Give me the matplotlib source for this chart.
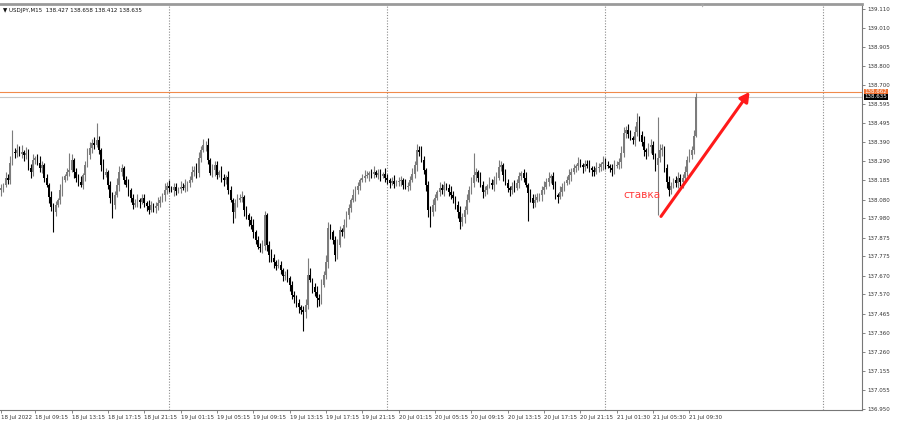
import numpy as np
import matplotlib
matplotlib.use("Agg")
import matplotlib.pyplot as plt

# USDJPY M15 closes, one per bar (18 Jul 05:30 -> 21 Jul 10:00)
closes = [
    138.144, 138.160, 138.198, 138.187, 138.279, 138.338, 138.333, 138.349, 138.327, 138.338,
    138.322, 138.333, 138.252, 138.230, 138.295, 138.306, 138.279, 138.252, 138.268, 138.198,
    138.160, 138.095, 138.041, 138.014, 138.052, 138.079, 138.133, 138.187, 138.209, 138.230,
    138.241, 138.295, 138.230, 138.198, 138.176, 138.160, 138.214, 138.268, 138.322, 138.360,
    138.387, 138.376, 138.403, 138.349, 138.268, 138.214, 138.230, 138.160, 138.090, 138.052,
    138.106, 138.160, 138.230, 138.252, 138.187, 138.160, 138.133, 138.090, 138.052, 138.063,
    138.079, 138.068, 138.090, 138.063, 138.047, 138.025, 138.052, 138.036, 138.047, 138.063,
    138.079, 138.106, 138.133, 138.155, 138.144, 138.133, 138.149, 138.128, 138.138, 138.149,
    138.144, 138.160, 138.171, 138.187, 138.230, 138.241, 138.225, 138.306, 138.349, 138.376,
    138.376, 138.295, 138.225, 138.241, 138.268, 138.214, 138.230, 138.198, 138.187, 138.203,
    138.133, 138.079, 138.014, 138.063, 138.079, 138.090, 138.095, 138.025, 137.998, 137.971,
    137.944, 137.906, 137.863, 137.825, 137.820, 137.831, 137.998, 137.836, 137.782, 137.766,
    137.744, 137.723, 137.728, 137.701, 137.669, 137.674, 137.658, 137.620, 137.566, 137.555,
    137.523, 137.501, 137.485, 137.474, 137.512, 137.674, 137.647, 137.609, 137.582, 137.550,
    137.539, 137.620, 137.674, 137.744, 137.928, 137.906, 137.863, 137.782, 137.836, 137.917,
    137.906, 137.944, 137.998, 138.036, 138.079, 138.106, 138.133, 138.155, 138.187, 138.198,
    138.209, 138.214, 138.225, 138.219, 138.230, 138.214, 138.225, 138.209, 138.219, 138.198,
    138.187, 138.171, 138.182, 138.165, 138.176, 138.182, 138.187, 138.160, 138.149, 138.155,
    138.187, 138.219, 138.268, 138.349, 138.338, 138.295, 138.241, 138.160, 138.025, 138.014,
    138.052, 138.090, 138.122, 138.144, 138.133, 138.160, 138.144, 138.122, 138.106, 138.090,
    138.052, 138.014, 137.960, 137.987, 138.025, 138.079, 138.133, 138.171, 138.214, 138.230,
    138.198, 138.160, 138.122, 138.133, 138.155, 138.171, 138.160, 138.187, 138.198, 138.257,
    138.268, 138.214, 138.171, 138.144, 138.133, 138.155, 138.144, 138.171, 138.209, 138.225,
    138.198, 138.160, 138.117, 138.090, 138.063, 138.079, 138.095, 138.106, 138.133, 138.149,
    138.176, 138.198, 138.209, 138.160, 138.106, 138.095, 138.122, 138.149, 138.171, 138.187,
    138.214, 138.230, 138.252, 138.263, 138.279, 138.268, 138.257, 138.273, 138.263, 138.252,
    138.241, 138.230, 138.252, 138.257, 138.273, 138.284, 138.268, 138.263, 138.252, 138.241,
    138.263, 138.268, 138.284, 138.333, 138.441, 138.457, 138.435, 138.414, 138.403, 138.446,
    138.500, 138.430, 138.392, 138.349, 138.338, 138.365, 138.376, 138.322, 138.268, 138.306,
    138.349, 138.360, 138.252, 138.176, 138.133, 138.155, 138.187, 138.171, 138.198, 138.176,
    138.198, 138.230, 138.295, 138.322, 138.349, 138.427, 138.635,
]
first_open = 138.133

# wick lengths in pips (0.01)
wick_up = [
    2, 1, 3, 2, 4, 12, 2, 3, 2, 4, 1, 3, 2, 2, 3, 1, 2, 4, 2, 1,
    2, 1, 3, 2, 2, 1, 3, 2, 1, 2, 9, 3, 1, 2, 2, 3, 1, 2, 4, 3,
    2, 3, 9, 2, 1, 3, 2, 1, 2, 3, 2, 4, 3, 2, 1, 2, 3, 1, 2, 2,
    3, 1, 2, 2, 1, 3, 2, 1, 2, 3, 2, 1, 4, 2, 3, 1, 2, 2, 1, 3,
    2, 3, 1, 2, 3, 2, 4, 3, 2, 3, 2, 4, 1, 3, 2, 2, 1, 3, 2, 1,
    3, 2, 1, 2, 3, 2, 3, 1, 2, 1, 2, 3, 1, 2, 2, 3, 2, 1, 2, 3,
    2, 1, 3, 2, 1, 2, 3, 1, 2, 2, 1, 2, 1, 2, 3, 9, 4, 1, 2, 3,
    2, 3, 2, 4, 3, 2, 1, 2, 3, 2, 1, 3, 2, 2, 1, 3, 2, 2, 1, 2,
    3, 2, 1, 2, 3, 1, 2, 2, 1, 3, 2, 1, 2, 3, 1, 2, 2, 1, 3, 2,
    2, 3, 2, 3, 2, 3, 2, 1, 2, 2, 3, 2, 1, 3, 2, 2, 1, 2, 3, 2,
    1, 2, 3, 2, 2, 3, 2, 3, 12, 2, 1, 3, 2, 2, 1, 3, 2, 2, 3, 4,
    2, 1, 3, 2, 1, 2, 3, 2, 2, 1, 2, 3, 1, 2, 2, 3, 2, 1, 2, 3,
    2, 3, 1, 2, 2, 1, 3, 2, 1, 2, 3, 2, 2, 1, 3, 2, 1, 2, 2, 3,
    1, 2, 3, 2, 1, 3, 2, 2, 1, 2, 3, 2, 2, 4, 3, 2, 3, 2, 1, 3,
    5, 3, 2, 3, 1, 2, 3, 2, 1, 22, 3, 2, 1, 2, 3, 2, 1, 2, 3, 2,
    2, 3, 2, 3, 2, 3, 2,
]
wick_dn = [
    3, 2, 1, 2, 2, 1, 3, 2, 1, 2, 3, 2, 1, 3, 2, 2, 1, 2, 3, 2,
    1, 3, 2, 11, 2, 1, 2, 3, 1, 2, 2, 1, 3, 2, 2, 1, 2, 3, 1, 2,
    3, 2, 1, 2, 3, 2, 1, 2, 3, 7, 2, 1, 3, 2, 2, 1, 3, 2, 2, 1,
    2, 3, 1, 2, 3, 2, 1, 2, 3, 2, 2, 1, 3, 2, 2, 1, 3, 2, 1, 2,
    1, 2, 3, 2, 1, 2, 3, 2, 2, 1, 3, 2, 1, 2, 3, 2, 1, 2, 3, 2,
    2, 1, 6, 3, 2, 1, 2, 3, 2, 3, 2, 3, 2, 1, 2, 3, 2, 3, 4, 2,
    3, 2, 1, 2, 3, 2, 2, 3, 2, 3, 2, 3, 2, 10, 3, 2, 1, 3, 2, 5,
    3, 2, 1, 2, 3, 4, 2, 3, 2, 1, 2, 3, 1, 2, 2, 1, 3, 2, 2, 1,
    2, 1, 3, 2, 2, 1, 2, 3, 1, 2, 2, 3, 1, 2, 1, 2, 3, 2, 1, 2,
    2, 1, 2, 3, 2, 1, 2, 3, 4, 8, 2, 3, 1, 2, 2, 3, 1, 2, 2, 3,
    2, 3, 4, 2, 3, 2, 1, 2, 2, 3, 2, 1, 3, 2, 2, 1, 2, 3, 2, 1,
    2, 3, 1, 2, 3, 2, 2, 1, 3, 2, 2, 1, 15, 2, 3, 2, 1, 2, 3, 2,
    1, 2, 3, 2, 2, 3, 1, 2, 2, 1, 2, 3, 1, 2, 2, 1, 3, 2, 1, 2,
    3, 2, 1, 2, 2, 3, 2, 1, 2, 3, 2, 1, 2, 3, 2, 3, 2, 1, 2, 3,
    2, 3, 2, 3, 4, 2, 3, 2, 3, 27, 2, 3, 2, 3, 3, 2, 1, 2, 3, 2,
    3, 2, 2, 1, 2, 2, 1,
]

price_ticks = [139.110, 139.010, 138.905, 138.800, 138.700, 138.595, 138.495, 138.390,
               138.290, 138.185, 138.080, 137.980, 137.875, 137.775, 137.670, 137.570,
               137.465, 137.360, 137.260, 137.155, 137.055, 136.950]
time_tick_bars = [0, 15, 31, 47, 63, 79, 95, 111, 127, 143, 159, 175, 191, 207, 223,
                  239, 255, 271, 287, 303]
time_labels = ["18 Jul 2022", "18 Jul 09:15", "18 Jul 13:15", "18 Jul 17:15", "18 Jul 21:15",
               "19 Jul 01:15", "19 Jul 05:15", "19 Jul 09:15", "19 Jul 13:15", "19 Jul 17:15",
               "19 Jul 21:15", "20 Jul 01:15", "20 Jul 05:15", "20 Jul 09:15", "20 Jul 13:15",
               "20 Jul 17:15", "20 Jul 21:15", "21 Jul 01:30", "21 Jul 05:30", "21 Jul 09:30"]
day_separator_bars = [74, 170, 266, 362]
bid = 138.635
ask = 138.662
header = "\u25bc USDJPY,M15  138.427 138.658 138.412 138.635"

close = np.array(closes)
open_ = np.r_[first_open, close[:-1]]
high = np.maximum(open_, close) + np.array(wick_up) * 0.01
low = np.minimum(open_, close) - np.array(wick_dn) * 0.01
idx = np.arange(len(close))
bull = close >= open_
colors = np.where(bull, "#7c7c7c", "#000000")

fig = plt.figure(figsize=(9, 4.24), dpi=100, facecolor="white")
ax = fig.add_axes([0, 1 - 410 / 424, 862 / 900, 406 / 424])

ax.vlines(idx, low, high, colors=colors, linewidth=0.8, zorder=3)
ax.bar(idx, close - open_, bottom=open_, width=0.7, color=colors, linewidth=0, zorder=4)

for b in day_separator_bars:
    ax.axvline(b, color="#8c8c8c", linestyle=(0, (1, 1.5)), linewidth=0.8, zorder=1)

ax.axhline(ask, color="#f08a4b", linewidth=0.8, zorder=2)
ax.axhline(bid, color="#c8c8c8", linewidth=0.8, zorder=2)

ax.set_xlim(-0.5, 379)
ax.set_ylim(136.945, 139.137)

ax.yaxis.tick_right()
ax.set_yticks(price_ticks)
ax.set_yticklabels([f"{p:.3f}" for p in price_ticks], fontsize=4, color="#333333")
ax.set_xticks(time_tick_bars)
ax.set_xticklabels(time_labels, fontsize=4, color="#333333", ha="left")
ax.tick_params(axis="y", length=2, width=0.5, pad=1.5, color="#555555")
ax.tick_params(axis="x", length=2, width=0.5, pad=1.5, color="#555555")

# price boxes on the scale
ax.text(1.003, ask, f"{ask:.3f}", transform=ax.get_yaxis_transform(), fontsize=4,
        color="white", va="center", ha="left",
        bbox=dict(boxstyle="square,pad=0.15", fc="#f07030", ec="none"), clip_on=False)
ax.text(1.003, bid, f"{bid:.3f}", transform=ax.get_yaxis_transform(), fontsize=4,
        color="white", va="center", ha="left",
        bbox=dict(boxstyle="square,pad=0.15", fc="#000000", ec="none"), clip_on=False)

for s in ax.spines.values():
    s.set_color("#777777")
    s.set_linewidth(0.8)
ax.spines["left"].set_visible(False)
ax.spines["top"].set_color("#9a9a9a")
ax.spines["top"].set_linewidth(2)

ax.text(0.003, 0.99, header, transform=ax.transAxes, fontsize=4, va="top", ha="left",
        color="#111111")
ax.text(309, 139.125, "\u25bc", fontsize=3, color="#aaaaaa", ha="center", va="center")

# annotation
ax.annotate("", xy=(329.5, 138.662), xytext=(290.5, 137.990),
            arrowprops=dict(arrowstyle="-|>,head_length=0.55,head_width=0.3",
                            color="#ff1a1a", lw=2.2, shrinkA=0, shrinkB=0), zorder=6)
ax.text(282, 138.106, "ставка", fontsize=7.5, color="#ff3b3b", ha="center", va="center")

fig.savefig("out.png", dpi=100, facecolor="white")
